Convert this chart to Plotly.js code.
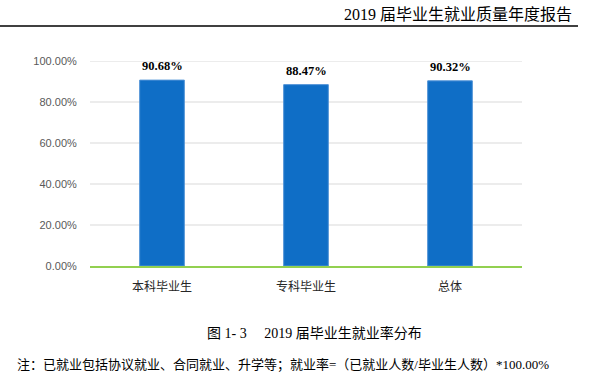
<!DOCTYPE html>
<html>
<head>
<meta charset="utf-8">
<script src="https://cdn.plot.ly/plotly-3.0.1.min.js"></script>
<style>html,body{margin:0;padding:0;background:#fff;}</style>
</head>
<body>
<div id="chart" style="width:595px;height:389px;"></div>
<script>
const categories = ["本科毕业生", "专科毕业生", "总体"];
const rates = [0.9068, 0.8847, 0.9032];
const yTicks = [0, 0.2, 0.4, 0.6, 0.8, 1.0];
const headerText = "2019 届毕业生就业质量年度报告";
const captionText = "图 1- 3　 2019 届毕业生就业率分布";
const noteText = "注：已就业包括协议就业、合同就业、升学等；就业率=（已就业人数/毕业生人数）*100.00%";

const trace = {
  type: "bar",
  x: categories,
  y: rates,
  width: 0.31,
  marker: {color: "#0f6ec6", line: {color: "#4f92d6", width: 1}},
  hoverinfo: "skip"
};

const gridShapes = yTicks.filter(v => v > 0).map(v => ({
  type: "line", xref: "paper", yref: "y", x0: 0, x1: 1, y0: v, y1: v,
  line: {color: "#d9d9d9", width: 1}, layer: "below"
}));

const valueLabels = categories.map((c, i) => ({
  x: c, y: rates[i], xref: "x", yref: "y",
  text: (rates[i] * 100).toFixed(2) + "%",
  showarrow: false, yanchor: "bottom", yshift: 5,
  font: {family: "Liberation Serif, serif", size: 12.5, color: "#000", weight: "bold"}
}));

const layout = {
  width: 595, height: 389,
  margin: {l: 90, r: 73, t: 61, b: 123},
  paper_bgcolor: "#fff", plot_bgcolor: "#fff",
  showlegend: false,
  xaxis: {
    type: "category",
    showgrid: false,
    showline: true, linecolor: "#92d050", linewidth: 2,
    ticks: "outside", ticklen: 9, tickcolor: "rgba(0,0,0,0)",
    tickfont: {family: "Noto Sans CJK SC, sans-serif", size: 12, color: "#262626"}
  },
  yaxis: {
    range: [0, 1],
    tickvals: yTicks,
    tickformat: ".2%",
    showgrid: false, zeroline: false, showline: false,
    ticks: "outside", ticklen: 10, tickcolor: "rgba(0,0,0,0)",
    tickfont: {family: "Liberation Sans, Arial, sans-serif", size: 11, color: "#595959"}
  },
  shapes: gridShapes.concat([{
    type: "line", xref: "paper", yref: "paper",
    x0: -90/432, x1: (578-90)/432, y0: (389-26-123)/205, y1: (389-26-123)/205,
    line: {color: "#000", width: 1.3}
  }]),
  annotations: valueLabels.concat([
    {text: headerText, xref: "paper", yref: "paper", x: (574-90)/432, y: (389-14-123)/205,
     xanchor: "right", yanchor: "middle", showarrow: false,
     font: {family: "Liberation Serif, Noto Sans CJK SC, serif", size: 16, color: "#000"}},
    {text: captionText, xref: "paper", yref: "paper", x: (314-90)/432, y: (389-333-123)/205,
     xanchor: "center", yanchor: "middle", showarrow: false,
     font: {family: "Liberation Serif, Noto Sans CJK SC, serif", size: 14, color: "#000"}},
    {text: noteText, xref: "paper", yref: "paper", x: (15-90)/432, y: (389-365-123)/205,
     xanchor: "left", yanchor: "middle", showarrow: false,
     font: {family: "Liberation Serif, Noto Sans CJK SC, serif", size: 13, color: "#000"}}
  ])
};

Plotly.newPlot("chart", [trace], layout, {displayModeBar: false, staticPlot: true});
</script>
</body>
</html>
